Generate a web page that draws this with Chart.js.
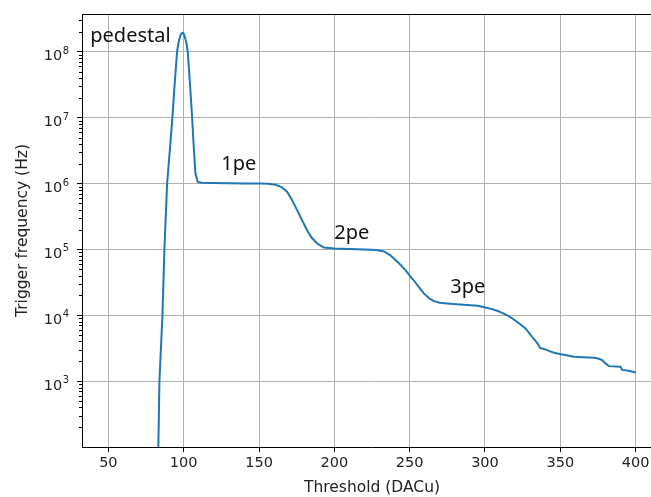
<!DOCTYPE html>
<html>
<head>
<meta charset="utf-8">
<script src="https://cdn.jsdelivr.net/npm/chart.js@4"></script>
<style>
    html, body { margin: 0; padding: 0; background: #fff; overflow: hidden; }
    #wrap { width: 662px; height: 497px; }
</style>
</head>
<body>
<div id="wrap"><canvas id="threshold-chart" width="662" height="497"></canvas></div>
<script>
// threshold scan
var thresholds = [83, 83.9, 85.9, 87.2, 89, 90.8, 92.5, 94, 95.6, 96.3,
    97, 98, 98.6, 99.1, 99.6, 100, 100.5, 101, 101.8, 102.7,
    104.2, 105.6, 106.8, 107.8, 109.3,
    112, 120, 130, 140, 151, 156, 161, 165, 168.6, 172,
    175.3, 178.5, 181.9, 185, 188.6, 193, 200, 210, 220, 228,
    233, 237, 240.6, 244, 247.2, 250, 252.7, 256, 259.4, 263,
    266, 270, 274.9, 281, 288.2, 295, 300.3, 304, 308.1, 311,
    314.7, 318, 321.4, 324, 326.9, 329, 331.3, 333.5, 335.7, 336.5,
    340.2, 343, 345.7, 351.3, 355, 359, 365, 372.3, 375, 377.8,
    379, 382.2, 390, 391, 395.5, 400];
var rates = [60, 1e3, 1e4, 1e5, 1e6, 3.2e6, 1e7, 3.2e7, 1e8, 1.28e8,
    1.53e8, 1.82e8, 1.9e8, 1.94e8, 1.93e8, 1.86e8, 1.76e8, 1.62e8, 1.35e8, 1e8,
    3.2e7, 1e7, 3.2e6, 1.42e6, 1.06e6,
    1.03e6, 1.02e6, 1.01e6, 1.0e6, 1.0e6, 9.9e5, 9.6e5, 8.8e5, 7.5e5, 5.6e5,
    3.95e5, 2.8e5, 1.96e5, 1.5e5, 1.23e5, 1.07e5, 1.03e5, 1.01e5, 1.0e5, 9.8e4,
    9.3e4, 8.2e4, 6.9e4, 5.8e4, 4.85e4, 4.0e4, 3.4e4, 2.7e4, 2.15e4, 1.8e4,
    1.64e4, 1.55e4, 1.51e4, 1.47e4, 1.43e4, 1.39e4, 1.31e4, 1.25e4, 1.17e4, 1.1e4,
    1.0e4, 9.0e3, 7.9e3, 7.1e3, 6.3e3, 5.5e3, 4.7e3, 4.1e3, 3.5e3, 3.2e3,
    3.03e3, 2.85e3, 2.7e3, 2.54e3, 2.45e3, 2.34e3, 2.3e3, 2.26e3, 2.2e3, 2.08e3,
    1.95e3, 1.69e3, 1.66e3, 1.48e3, 1.44e3, 1.35e3];

var noteText = ["pedestal", "1pe", "2pe", "3pe"];
var noteX = [38, 125, 200, 277];
var noteY = [1.4e8, 1.6e6, 1.45e5, 2.2e4];

var xTicks = [50, 100, 150, 200, 250, 300, 350, 400];
var yDecades = [1e3, 1e4, 1e5, 1e6, 1e7, 1e8];

var yMin = 100, yMax = 3.75e8;

// minor ticks 2..9 x decade, inside the axis range
var yMinor = [];
[1e2, 1e3, 1e4, 1e5, 1e6, 1e7, 1e8].forEach(function (d) {
    for (var m = 2; m <= 9; m++) {
        if (d * m > yMin && d * m < yMax) yMinor.push(d * m);
    }
});

var points = thresholds.map(function (t, i) {
    return { x: t, y: rates[i] };
});

var overlay = {
    id: "overlay",
    afterDraw: function (chart) {
        var ctx = chart.ctx;
        var a = chart.chartArea;
        var x = chart.scales.x, y = chart.scales.y;
        ctx.save();
        ctx.strokeStyle = "#000";
        ctx.lineWidth = 1;
        ctx.beginPath();
        ctx.moveTo(a.left, a.top + 0.5);
        ctx.lineTo(a.right, a.top + 0.5);
        ctx.moveTo(a.right - 0.5, a.top);
        ctx.lineTo(a.right - 0.5, a.bottom);
        yMinor.forEach(function (v) {
            var py = Math.round(y.getPixelForValue(v)) + 0.5;
            ctx.moveTo(a.left - 3, py);
            ctx.lineTo(a.left, py);
        });
        ctx.stroke();

        // y tick labels as 10 with a raised exponent
        ctx.fillStyle = "#222";
        ctx.textBaseline = "alphabetic";
        ctx.textAlign = "left";
        yDecades.forEach(function (v) {
            var py = y.getPixelForValue(v);
            var e = String(Math.round(Math.log10(v)));
            ctx.font = '10px "DejaVu Sans"';
            var we = ctx.measureText(e).width;
            ctx.font = '14.5px "DejaVu Sans"';
            var wb = ctx.measureText("10").width;
            var right = a.left - 13;
            ctx.fillText("10", right - we - wb - 0.5, py + 8.5);
            ctx.font = '10px "DejaVu Sans"';
            ctx.fillText(e, right - we, py + 2);
        });

        ctx.fillStyle = "#111";
        ctx.font = '20px "Noto Sans"';
        noteText.forEach(function (t, i) {
            ctx.fillText(t, x.getPixelForValue(noteX[i]), y.getPixelForValue(noteY[i]));
        });
        ctx.restore();
    }
};

var tickFont = { family: "DejaVu Sans", size: 14.5 };
var titleFont = { family: "DejaVu Sans", size: 15.5 };

new Chart(document.getElementById("threshold-chart"), {
    type: "line",
    data: {
        datasets: [{
            data: points,
            borderColor: "#1f77b4",
            borderWidth: 2,
            pointRadius: 0,
            fill: false,
            tension: 0
        }]
    },
    options: {
        responsive: false,
        animation: false,
        events: [],
        layout: { padding: { top: 14, left: 0, right: 0, bottom: 0 } },
        plugins: {
            legend: { display: false },
            tooltip: { enabled: false }
        },
        scales: {
            x: {
                type: "linear",
                min: 32.5,
                max: 417.5,
                afterBuildTicks: function (scale) {
                    scale.ticks = xTicks.map(function (v) { return { value: v }; });
                },
                afterFit: function (scale) { scale.height = 50; },
                ticks: {
                    autoSkip: false,
                    maxRotation: 0,
                    color: "#222",
                    font: tickFont,
                    padding: 3,
                    callback: function (v) { return String(v); }
                },
                grid: { color: "#b0b0b0", lineWidth: 1, tickColor: "#000", tickLength: 5 },
                border: { color: "#000", width: 1 },
                title: {
                    display: true,
                    text: "Threshold (DACu)",
                    color: "#222",
                    font: titleFont,
                    padding: { top: 0, bottom: 0 }
                }
            },
            y: {
                type: "logarithmic",
                min: yMin,
                max: yMax,
                afterBuildTicks: function (scale) {
                    scale.ticks = yDecades.map(function (v) { return { value: v }; });
                },
                afterFit: function (scale) { scale.width = 82; },
                ticks: {
                    autoSkip: false,
                    display: true,
                    color: "rgba(0,0,0,0)",
                    font: tickFont,
                    callback: function () { return ""; }
                },
                grid: { color: "#b0b0b0", lineWidth: 1, tickColor: "#000", tickLength: 5 },
                border: { color: "#000", width: 1 },
                title: {
                    display: true,
                    text: "Trigger frequency (Hz)",
                    color: "#222",
                    font: titleFont,
                    padding: { top: 14, bottom: 0 }
                }
            }
        }
    },
    plugins: [overlay]
});
</script>
</body>
</html>
